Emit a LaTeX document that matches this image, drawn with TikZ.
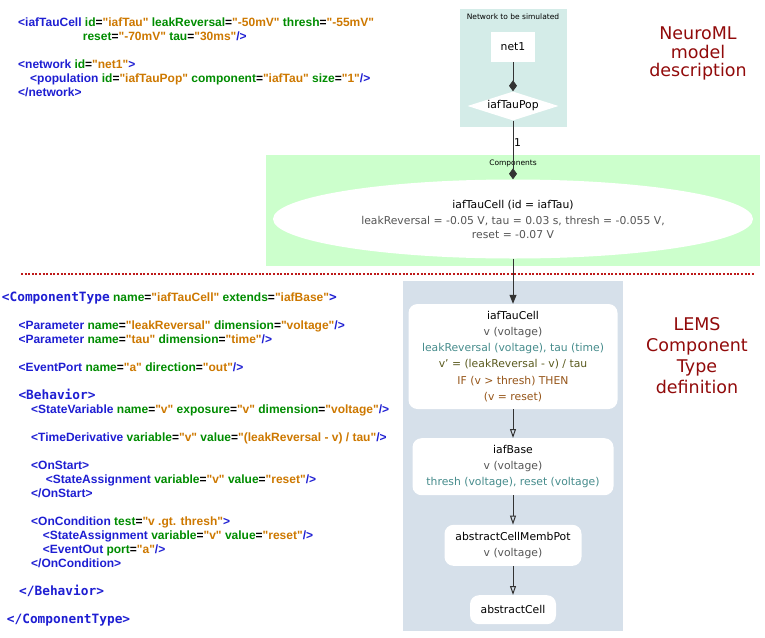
\documentclass[tikz,border=0pt]{standalone}
\usepackage{fontspec}
\setmainfont{DejaVu Sans}
\newfontfamily\xmlfont{Liberation Sans}
\newfontfamily\xmlmono{DejaVu Sans Mono}
\usepackage{tikz}
\usetikzlibrary{arrows.meta,shapes.geometric}
\definecolor{netbg}{RGB}{212,236,232}
\definecolor{compbg}{RGB}{204,255,204}
\definecolor{lemsbg}{RGB}{214,224,234}
\definecolor{headred}{RGB}{145,10,10}
\definecolor{dotred}{RGB}{190,25,25}
\definecolor{xmltag}{RGB}{30,30,210}
\definecolor{xmlattr}{RGB}{0,140,0}
\definecolor{xmlval}{RGB}{205,120,0}
\definecolor{lemsgrey}{RGB}{85,85,85}
\definecolor{lemsteal}{RGB}{70,140,140}
\definecolor{lemsolive}{RGB}{90,90,30}
\definecolor{lemsbrown}{RGB}{150,85,25}
\newcommand{\xtag}[1]{\textcolor{xmltag}{#1}}
\newcommand{\xkey}[2]{\textcolor{xmlattr}{#1}=\textcolor{xmlval}{"#2"}}
\newcommand{\xbig}[1]{\textcolor{xmltag}{\xmlmono\bfseries\fontsize{12.8}{14}\selectfont #1}}

\begin{document}
\begin{tikzpicture}[x=1pt, y=-1pt,
    xml/.style={anchor=base west, inner sep=0pt, font=\xmlfont\bfseries\fontsize{12}{14}\selectfont},
    boxtitle/.style={anchor=base, inner sep=0pt, font=\fontsize{7.5}{9}\selectfont},
    header/.style={align=center, inner sep=0pt, text=headred},
    netbox/.style={fill=white, minimum width=44, minimum height=30, inner sep=0pt, font=\fontsize{10.8}{13}\selectfont},
    popdiamond/.style={diamond, aspect=3, fill=white, minimum width=91, minimum height=29, inner sep=0pt, font=\fontsize{10.8}{13}\selectfont},
    cellellipse/.style={ellipse, fill=white, minimum width=480, minimum height=79, inner sep=0pt, align=center, font=\fontsize{10.8}{13.5}\selectfont},
    lemsbox/.style={rounded corners=9pt, fill=white, inner sep=0pt, align=center, font=\fontsize{10.8}{16.1}\selectfont},
    edge/.style={draw=black!80, line width=1pt},
    dotline/.style={draw=dotred, line width=2pt, dash pattern=on 2pt off 1.6pt}]
    \useasboundingbox (0,0) rectangle (765,637);

    % Backgrounds
    \fill[netbg] (460,9) rectangle (567,127);
    \fill[compbg] (266,155) rectangle (760,266);
    \fill[lemsbg] (402.5,281) rectangle (623,631);
    \node[boxtitle] (nettitle) at (513,19) {Network to be simulated};
    \node[boxtitle] (comptitle) at (513,165.7) {Components};

    % Separator
    \draw[dotline] (21,274) -- (755,274);

    % Headers
    \node[header, font=\fontsize{17.5}{18.6}\selectfont] (nmlhead) at (698,53.6) {NeuroML\\model\\description};
    \node[header, font=\fontsize{17.5}{21.3}\selectfont] (lemshead) at (697,355.6) {LEMS\\Component\\Type\\definition};

    % NeuroML source
    \node[xml] (nml1) at (18,26) {\xtag{<iafTauCell} \xkey{id}{iafTau} \xkey{leakReversal}{-50mV} \xkey{thresh}{-55mV}};
    \node[xml] (nml2) at (82.7,40) {\xkey{reset}{-70mV} \xkey{tau}{30ms}\xtag{/>}};
    \node[xml] (nml3) at (18,68) {\xtag{<network} \xkey{id}{net1}\xtag{>}};
    \node[xml] (nml4) at (30,82) {\xtag{<population} \xkey{id}{iafTauPop} \xkey{component}{iafTau} \xkey{size}{1}\xtag{/>}};
    \node[xml] (nml5) at (18,96) {\xtag{</network>}};

    % LEMS source
    \node[xml] (ct1) at (1.7,301.7) {\xbig{<ComponentType} \xkey{name}{iafTauCell} \xkey{extends}{iafBase}\xbig{>}};
    \node[xml] (ct2) at (18.3,329) {\xtag{<Parameter} \xkey{name}{leakReversal} \xkey{dimension}{voltage}\xtag{/>}};
    \node[xml] (ct3) at (18.3,343) {\xtag{<Parameter} \xkey{name}{tau} \xkey{dimension}{time}\xtag{/>}};
    \node[xml] (ct4) at (18.3,371) {\xtag{<EventPort} \xkey{name}{a} \xkey{direction}{out}\xtag{/>}};
    \node[xml] (ct5) at (18.3,399) {\xbig{<Behavior>}};
    \node[xml] (ct6) at (31,413) {\xtag{<StateVariable} \xkey{name}{v} \xkey{exposure}{v} \xkey{dimension}{voltage}\xtag{/>}};
    \node[xml] (ct7) at (31,441) {\xtag{<TimeDerivative} \xkey{variable}{v} \xkey{value}{(leakReversal - v) / tau}\xtag{/>}};
    \node[xml] (ct8) at (31,469) {\xtag{<OnStart>}};
    \node[xml] (ct9) at (45.7,483) {\xtag{<StateAssignment} \xkey{variable}{v} \xkey{value}{reset}\xtag{/>}};
    \node[xml] (ct10) at (31,497) {\xtag{</OnStart>}};
    \node[xml] (ct11) at (31,525) {\xtag{<OnCondition} \xkey{test}{v .gt. thresh}\xtag{>}};
    \node[xml] (ct12) at (42.7,539) {\xtag{<StateAssignment} \xkey{variable}{v} \xkey{value}{reset}\xtag{/>}};
    \node[xml] (ct13) at (42.7,553) {\xtag{<EventOut} \xkey{port}{a}\xtag{/>}};
    \node[xml] (ct14) at (31,567) {\xtag{</OnCondition>}};
    \node[xml] (ct15) at (19,595) {\xbig{</Behavior>}};
    \node[xml] (ct16) at (6.7,623) {\xbig{</ComponentType>}};

    % Network graph
    \node[netbox] (net1) at (513,47) {net1};
    \node[popdiamond] (pop) at (513,106) {iafTauPop};
    \node[cellellipse] (cell) at (513,219) {iafTauCell (id = iafTau)\\[3pt]
        \textcolor{lemsgrey}{leakReversal = -0.05 V, tau = 0.03 s, thresh = -0.055 V,}\\
        \textcolor{lemsgrey}{reset = -0.07 V}};

    % ComponentType hierarchy
    \node[lemsbox, minimum width=209, minimum height=105] (tauCell) at (513,356.5) {iafTauCell\\
        \textcolor{lemsgrey}{v (voltage)}\\
        \textcolor{lemsteal}{leakReversal (voltage), tau (time)}\\
        \textcolor{lemsolive}{v\char"0027{} = (leakReversal - v) / tau}\\
        \textcolor{lemsbrown}{IF (v > thresh) THEN}\\
        \textcolor{lemsbrown}{(v = reset)}};
    \node[lemsbox, minimum width=201, minimum height=57] (base) at (513,466.7) {iafBase\\
        \textcolor{lemsgrey}{v (voltage)}\\
        \textcolor{lemsteal}{thresh (voltage), reset (voltage)}};
    \node[lemsbox, minimum width=137, minimum height=41] (membPot) at (513,545.3) {abstractCellMembPot\\
        \textcolor{lemsgrey}{v (voltage)}};
    \node[lemsbox, minimum width=86, minimum height=29] (abstract) at (513,609.7) {abstractCell};

    % Connectors
    \draw[edge, -{Diamond[length=11pt,width=8pt]}] (net1) -- (pop);
    \draw[edge, -{Diamond[length=11pt,width=8pt]}] (pop) -- node[right, pos=0.37, inner sep=0.5pt, font=\fontsize{10.8}{13}\selectfont] {1} (cell);
    \draw[edge, -{Triangle[length=9pt,width=7pt]}] (cell) -- (tauCell);
    \draw[edge, -{Triangle[open,length=9pt,width=6pt]}] (tauCell) -- (base);
    \draw[edge, -{Triangle[open,length=9pt,width=6pt]}] (base) -- (membPot);
    \draw[edge, -{Triangle[open,length=9pt,width=6pt]}] (membPot) -- (abstract);
\end{tikzpicture}
\end{document}
